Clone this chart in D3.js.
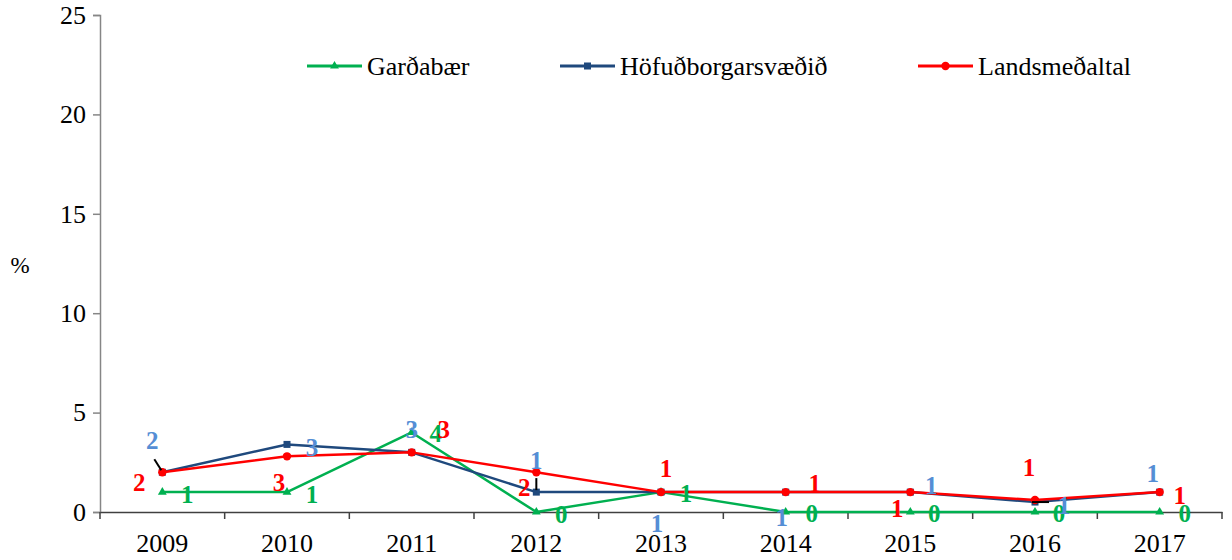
<!DOCTYPE html>
<html>
<head>
<meta charset="utf-8">
<script src="https://cdn.jsdelivr.net/npm/d3@7"></script>
<style>
  body { margin: 0; background: #fff; }
</style>
</head>
<body>
<div id="chart"></div>
<script>
// data
var years = ["2009", "2010", "2011", "2012", "2013", "2014", "2015", "2016", "2017"];
var gardabaer = [1, 1, 4, 0, 1, 0, 0, 0, 0];
var hofudborg = [2.0, 3.4, 3.0, 1.0, 1.0, 1.0, 1.0, 0.5, 1.0];
var landsmedal = [2.0, 2.8, 3.0, 2.0, 1.0, 1.0, 1.0, 0.6, 1.0];
var yTicks = [0, 5, 10, 15, 20, 25];

// hand placed label offsets (px from the point), like the original
var offGreen = [[25, 2], [25, 2], [24, 1], [25, 2], [25, 1], [26, 1], [24, 1], [24, 1], [25, 1]];
var offBlue = [[-10, -32], [25, 3], [0, -23], [0, -32], [-4, 31], [-4, 25], [21, -7], [29, 3], [-7, -19]];
var offRed = [[-23, 10], [-8, 26], [32, -23], [-12, 15], [5, -24], [29, -9], [-13, 16], [-6, -33], [20, 3]];

var series = [
  { name: "Garðabær", values: gardabaer, line: "#00B050", label: "#00B050", marker: "triangle", off: offGreen },
  { name: "Höfuðborgarsvæðið", values: hofudborg, line: "#1F497D", label: "#558ED5", marker: "square", off: offBlue },
  { name: "Landsmeðaltal", values: landsmedal, line: "#FF0000", label: "#FF0000", marker: "circle", off: offRed }
];

var FONT = "'Liberation Serif', 'Times New Roman', serif";
var width = 1232, height = 560;
var mLeft = 100, mRight = 1222, mTop = 15, mBottom = 512;

var svg = d3.select("#chart")
  .append("svg")
  .attr("width", width)
  .attr("height", height);

var x = d3.scaleBand()
  .domain(years)
  .range([mLeft, mRight]);

var y = d3.scaleLinear()
  .domain([0, 25])
  .range([mBottom, mTop]);

function cx(i) { return x(years[i]) + x.bandwidth() / 2; }

// y axis
var yAxis = svg.append("g")
  .attr("transform", "translate(" + mLeft + ",0)")
  .call(d3.axisLeft(y).tickValues(yTicks).tickSize(7).tickPadding(7));
yAxis.select(".domain").attr("stroke", "#868686").attr("stroke-width", 1.5);
yAxis.selectAll(".tick line").attr("stroke", "#868686").attr("stroke-width", 1.5);
yAxis.selectAll(".tick text")
  .attr("fill", "#000")
  .style("font-size", "26px")
  .style("font-family", FONT);

svg.append("text")
  .attr("x", 20)
  .attr("y", 265)
  .attr("text-anchor", "middle")
  .attr("dominant-baseline", "central")
  .style("font-family", FONT)
  .style("font-size", "23px")
  .text("%");

// x axis: labels at centres, ticks at band edges
var xAxis = svg.append("g")
  .attr("transform", "translate(0," + mBottom + ")")
  .call(d3.axisBottom(x).tickSize(0).tickSizeOuter(0).tickPadding(22));
xAxis.select(".domain").attr("stroke", "#404040").attr("stroke-width", 1.5);
xAxis.selectAll(".tick text")
  .attr("fill", "#000")
  .style("font-size", "26px")
  .style("font-family", FONT);

var edges = years.map(function(d) { return x(d); }).concat([x.range()[1]]);
svg.append("g")
  .selectAll("line")
  .data(edges)
  .enter()
  .append("line")
  .attr("x1", function(d) { return d; })
  .attr("x2", function(d) { return d; })
  .attr("y1", mBottom)
  .attr("y2", mBottom + 7)
  .attr("stroke", "#404040")
  .attr("stroke-width", 1.5);

var line = d3.line()
  .x(function(d, i) { return cx(i); })
  .y(function(d) { return y(d); });

function drawMarker(g, kind, px, py, color) {
  if (kind == "triangle") {
    g.append("path")
      .attr("d", d3.symbol().type(d3.symbolTriangle).size(34)())
      .attr("transform", "translate(" + px + "," + py + ")")
      .attr("fill", color);
  } else if (kind == "square") {
    g.append("rect")
      .attr("x", px - 3.5)
      .attr("y", py - 3.5)
      .attr("width", 7)
      .attr("height", 7)
      .attr("fill", color);
  } else {
    g.append("circle")
      .attr("cx", px)
      .attr("cy", py)
      .attr("r", 4.2)
      .attr("fill", color);
  }
}

// lines + markers
series.forEach(function(s) {
  var g = svg.append("g");
  g.append("path")
    .datum(s.values)
    .attr("d", line)
    .attr("fill", "none")
    .attr("stroke", s.line)
    .attr("stroke-width", 2.5)
    .attr("stroke-linejoin", "round");
  s.values.forEach(function(v, i) {
    drawMarker(g, s.marker, cx(i), y(v), s.line);
  });
});

// leader lines
var leaders = [
  { s: 1, i: 0, x1: -8, y1: -13, x2: -1, y2: -2 },
  { s: 1, i: 3, x1: 0, y1: -14, x2: 0, y2: -2 },
  { s: 1, i: 7, x1: -3, y1: 0, x2: 14, y2: 0 }
];
leaders.forEach(function(l) {
  var px = cx(l.i), py = y(series[l.s].values[l.i]);
  svg.append("line")
    .attr("x1", px + l.x1)
    .attr("y1", py + l.y1)
    .attr("x2", px + l.x2)
    .attr("y2", py + l.y2)
    .attr("stroke", "black")
    .attr("stroke-width", 2);
});

// data labels
series.forEach(function(s) {
  svg.append("g")
    .selectAll("text")
    .data(s.values)
    .enter()
    .append("text")
    .attr("x", function(d, i) { return cx(i) + s.off[i][0]; })
    .attr("y", function(d, i) { return y(d) + s.off[i][1]; })
    .attr("text-anchor", "middle")
    .attr("dominant-baseline", "central")
    .attr("fill", s.label)
    .style("font-family", FONT)
    .style("font-size", "25px")
    .style("font-weight", "bold")
    .text(function(d) { return Math.round(d); });
});

// legend
var legendX = [307, 560, 918];
series.forEach(function(s, k) {
  var g = svg.append("g");
  var lx = legendX[k], ly = 66;
  g.append("line")
    .attr("x1", lx)
    .attr("x2", lx + 55)
    .attr("y1", ly)
    .attr("y2", ly)
    .attr("stroke", s.line)
    .attr("stroke-width", 3);
  drawMarker(g, s.marker, lx + 27.5, ly, s.line);
  g.append("text")
    .attr("x", lx + 60)
    .attr("y", ly)
    .attr("dominant-baseline", "central")
    .style("font-family", FONT)
    .style("font-size", "26px")
    .text(s.name);
});
</script>
</body>
</html>
